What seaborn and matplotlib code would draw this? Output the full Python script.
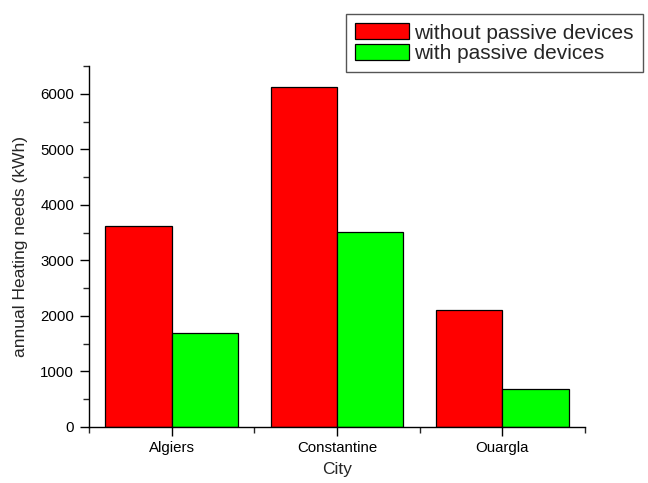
import matplotlib
matplotlib.use('Agg')
import matplotlib.pyplot as plt
import pandas as pd
import seaborn as sns
from matplotlib.ticker import MultipleLocator, FixedLocator

# values
cities = ['Algiers', 'Constantine', 'Ouargla']
without_passive = [3620, 6130, 2110]
with_passive = [1700, 3510, 680]
series_names = ['without passive devices', 'with passive devices']

df = pd.DataFrame({
    'City': cities * 2,
    'needs': without_passive + with_passive,
    'series': [series_names[0]] * 3 + [series_names[1]] * 3,
})

sns.set_style('ticks')
plt.rcParams['font.family'] = ['Liberation Sans', 'DejaVu Sans']

fig = plt.figure(figsize=(6.48, 4.83), dpi=100)
ax = fig.add_axes([0.137, 0.116, 0.766, 0.747])

sns.barplot(data=df, x='City', y='needs', hue='series', order=cities,
            hue_order=series_names, palette=['#ff0000', '#00ff00'],
            saturation=1, width=0.8, edgecolor='black', linewidth=0.9,
            ax=ax, legend=False)

ax.set_xlim(-0.5, 2.5)
ax.set_ylim(0, 6500)
ax.yaxis.set_major_locator(MultipleLocator(1000))
ax.yaxis.set_minor_locator(MultipleLocator(500))
ax.xaxis.set_minor_locator(FixedLocator([-0.5, 0.5, 1.5, 2.5]))
ax.tick_params(which='major', length=6.5, width=1, labelsize=10.8, direction='out', colors='black')
ax.tick_params(which='minor', length=4, width=1, direction='out')
ax.tick_params(axis='x', pad=3.5)
ax.tick_params(axis='y', pad=4)

sns.despine(ax=ax)
for s in ['left', 'bottom']:
    ax.spines[s].set_color('black')
    ax.spines[s].set_linewidth(1)

ax.set_xlabel('City', fontsize=12.5, labelpad=5)
ax.set_ylabel('annual Heating needs (kWh)', fontsize=12.5, labelpad=9)

handles = [plt.Rectangle((0, 0), 1, 1, facecolor=c, edgecolor='black', linewidth=0.9)
           for c in ['#ff0000', '#00ff00']]
leg = fig.legend(handles, series_names, loc='upper left',
                 bbox_to_anchor=(346 / 648, 1 - 14 / 483), fontsize=15,
                 frameon=True, fancybox=False, framealpha=1, edgecolor='#555555',
                 handlelength=2.55, handleheight=0.8, handletextpad=0.25,
                 labelspacing=0.05, borderpad=0.45, borderaxespad=0)
leg.get_frame().set_linewidth(1)

fig.savefig('out.png', dpi=100)
